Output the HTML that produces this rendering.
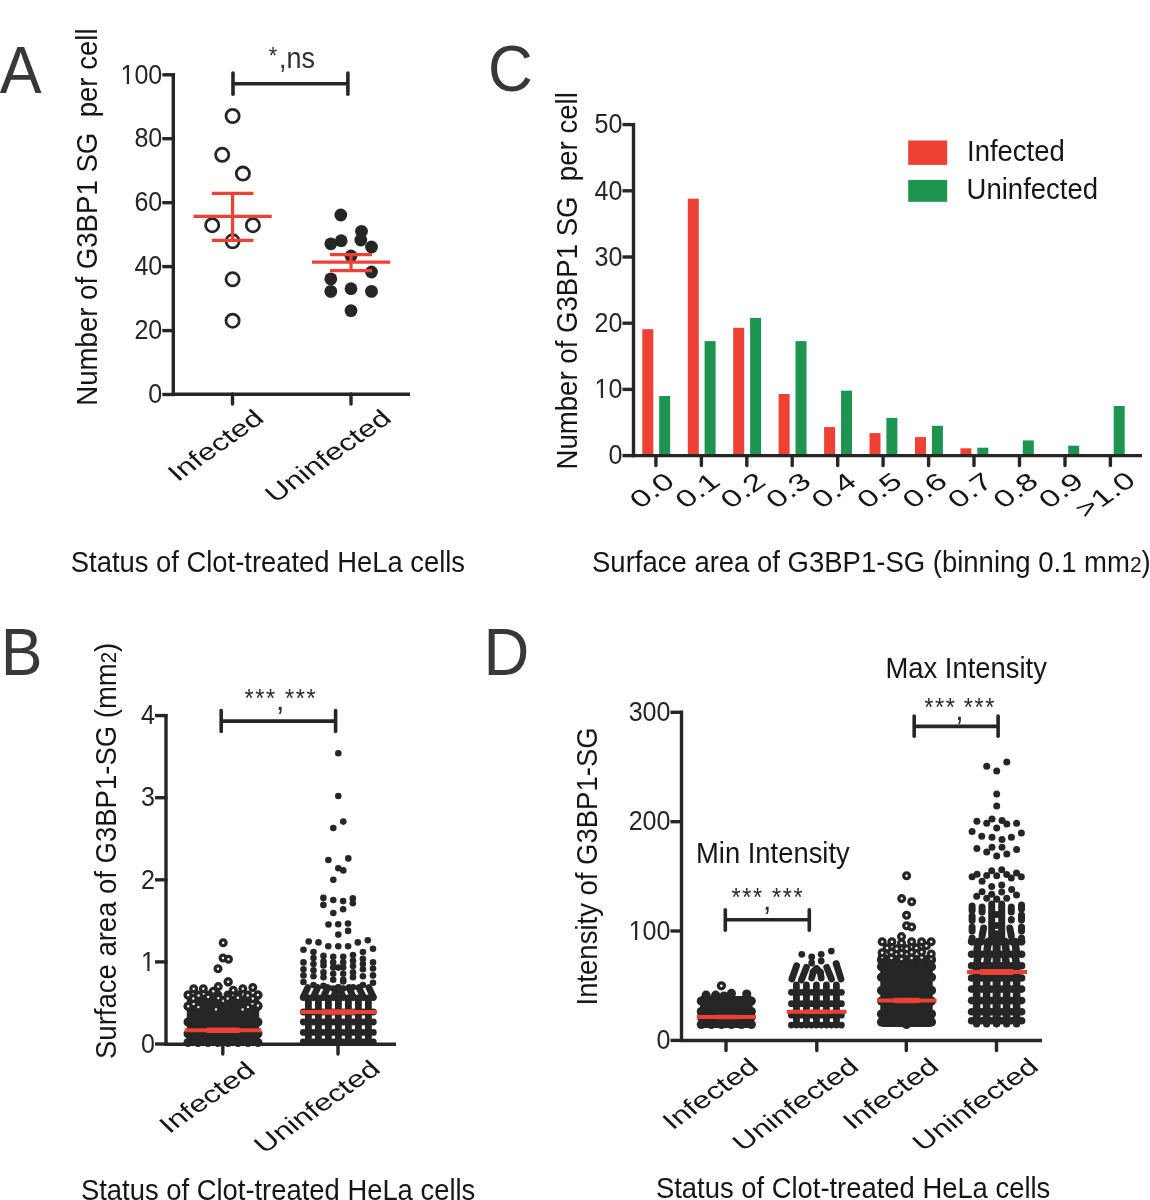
<!DOCTYPE html>
<html><head><meta charset="utf-8"><style>
html,body{margin:0;padding:0;background:#fff;overflow:hidden}
svg{display:block;will-change:transform}
text{font-family:"Liberation Sans",sans-serif}
</style></head><body>
<svg width="1150" height="1200" viewBox="0 0 1150 1200">
<rect width="1150" height="1200" fill="#fff"/>
<text transform="translate(-0.2,92.6) scale(1,1.06)" font-size="62.7" fill="#383838" text-anchor="start" >A</text>
<line x1="173.3" y1="73.3" x2="173.3" y2="396.0" stroke="#262626" stroke-width="3.4" stroke-linecap="butt"/>
<line x1="162.3" y1="394.5" x2="174.8" y2="394.5" stroke="#262626" stroke-width="3.4" stroke-linecap="butt"/>
<text transform="translate(162.3,403.2) scale(0.965,1.04)" font-size="26" fill="#262626" text-anchor="end">0</text>
<line x1="162.3" y1="330.6" x2="174.8" y2="330.6" stroke="#262626" stroke-width="3.4" stroke-linecap="butt"/>
<text transform="translate(162.3,339.3) scale(0.965,1.04)" font-size="26" fill="#262626" text-anchor="end">20</text>
<line x1="162.3" y1="266.6" x2="174.8" y2="266.6" stroke="#262626" stroke-width="3.4" stroke-linecap="butt"/>
<text transform="translate(162.3,275.3) scale(0.965,1.04)" font-size="26" fill="#262626" text-anchor="end">40</text>
<line x1="162.3" y1="202.7" x2="174.8" y2="202.7" stroke="#262626" stroke-width="3.4" stroke-linecap="butt"/>
<text transform="translate(162.3,211.4) scale(0.965,1.04)" font-size="26" fill="#262626" text-anchor="end">60</text>
<line x1="162.3" y1="138.7" x2="174.8" y2="138.7" stroke="#262626" stroke-width="3.4" stroke-linecap="butt"/>
<text transform="translate(162.3,147.4) scale(0.965,1.04)" font-size="26" fill="#262626" text-anchor="end">80</text>
<line x1="162.3" y1="74.8" x2="174.8" y2="74.8" stroke="#262626" stroke-width="3.4" stroke-linecap="butt"/>
<text transform="translate(162.3,83.5) scale(0.965,1.04)" font-size="26" fill="#262626" text-anchor="end">100</text>
<rect x="121.79" y="81.13" width="4.94" height="3.07" fill="#fff"/>
<rect x="128.99" y="81.13" width="4.80" height="3.07" fill="#fff"/>
<line x1="172.0" y1="394.2" x2="410.0" y2="394.2" stroke="#262626" stroke-width="3.4" stroke-linecap="butt"/>
<line x1="232.5" y1="394.0" x2="232.5" y2="404.0" stroke="#262626" stroke-width="3.4" stroke-linecap="round"/>
<line x1="351.0" y1="394.0" x2="351.0" y2="404.0" stroke="#262626" stroke-width="3.4" stroke-linecap="round"/>
<text transform="translate(96.6,405.7) rotate(-90) scale(1,1.06)" font-size="27.6" fill="#161616" text-anchor="start" xml:space="preserve">Number of G3BP1 SG  per cell</text>
<line x1="233.0" y1="83.8" x2="347.9" y2="83.8" stroke="#262626" stroke-width="3.6" stroke-linecap="butt"/>
<line x1="233.0" y1="73.0" x2="233.0" y2="94.3" stroke="#262626" stroke-width="3.6" stroke-linecap="round"/>
<line x1="347.9" y1="73.0" x2="347.9" y2="94.3" stroke="#262626" stroke-width="3.6" stroke-linecap="round"/>
<text transform="translate(278.9,68.0) scale(1,1.06)" font-size="27" fill="#303030" text-anchor="start" >,ns</text>
<text transform="translate(273.0,63.5) scale(1,1.06)" font-size="21.8" fill="#303030" text-anchor="middle" >*</text>
<circle cx="232.6" cy="116.0" r="6.6" fill="none" stroke="#262626" stroke-width="2.8"/>
<circle cx="222.2" cy="154.8" r="6.6" fill="none" stroke="#262626" stroke-width="2.8"/>
<circle cx="242.9" cy="173.6" r="6.6" fill="none" stroke="#262626" stroke-width="2.8"/>
<circle cx="212.2" cy="225.2" r="6.6" fill="none" stroke="#262626" stroke-width="2.8"/>
<circle cx="252.9" cy="225.2" r="6.6" fill="none" stroke="#262626" stroke-width="2.8"/>
<circle cx="232.6" cy="241.3" r="6.6" fill="none" stroke="#262626" stroke-width="2.8"/>
<circle cx="232.6" cy="279.3" r="6.6" fill="none" stroke="#262626" stroke-width="2.8"/>
<circle cx="232.6" cy="320.7" r="6.6" fill="none" stroke="#262626" stroke-width="2.8"/>
<circle cx="340.8" cy="215.0" r="6.4" fill="#262626"/>
<circle cx="361.5" cy="231.3" r="6.4" fill="#262626"/>
<circle cx="341.2" cy="240.7" r="6.4" fill="#262626"/>
<circle cx="330.8" cy="243.8" r="6.4" fill="#262626"/>
<circle cx="360.8" cy="240.0" r="6.4" fill="#262626"/>
<circle cx="371.5" cy="247.0" r="6.4" fill="#262626"/>
<circle cx="351.0" cy="256.0" r="6.4" fill="#262626"/>
<circle cx="371.5" cy="272.0" r="6.4" fill="#262626"/>
<circle cx="330.8" cy="278.9" r="6.4" fill="#262626"/>
<circle cx="330.8" cy="291.4" r="6.4" fill="#262626"/>
<circle cx="351.0" cy="288.7" r="6.4" fill="#262626"/>
<circle cx="371.5" cy="291.4" r="6.4" fill="#262626"/>
<circle cx="351.0" cy="310.6" r="6.4" fill="#262626"/>
<line x1="193.4" y1="216.4" x2="271.7" y2="216.4" stroke="#EC4134" stroke-width="3.2" stroke-linecap="butt"/>
<line x1="211.8" y1="193.3" x2="253.5" y2="193.3" stroke="#EC4134" stroke-width="3.2" stroke-linecap="butt"/>
<line x1="211.8" y1="240.4" x2="253.5" y2="240.4" stroke="#EC4134" stroke-width="3.2" stroke-linecap="butt"/>
<line x1="232.6" y1="193.3" x2="232.6" y2="240.4" stroke="#EC4134" stroke-width="3.2" stroke-linecap="butt"/>
<line x1="312.0" y1="262.2" x2="390.3" y2="262.2" stroke="#EC4134" stroke-width="3.2" stroke-linecap="butt"/>
<line x1="330.0" y1="254.7" x2="372.0" y2="254.7" stroke="#EC4134" stroke-width="3.2" stroke-linecap="butt"/>
<line x1="330.0" y1="270.6" x2="372.0" y2="270.6" stroke="#EC4134" stroke-width="3.2" stroke-linecap="butt"/>
<line x1="351.0" y1="254.7" x2="351.0" y2="270.6" stroke="#EC4134" stroke-width="3.2" stroke-linecap="butt"/>
<text transform="matrix(0.8226,-0.5803,0.6012,0.5867,265.5,420.4)" font-size="30" fill="#161616" text-anchor="end">Infected</text>
<text transform="matrix(0.8226,-0.5803,0.6012,0.5867,392.9,420.3)" font-size="30" fill="#161616" text-anchor="end">Uninfected</text>
<text transform="translate(70.8,572.0) scale(1,1.06)" font-size="27.4" fill="#161616" text-anchor="start" >Status of Clot-treated HeLa cells</text>
<text transform="translate(487.9,91.3) scale(1,1.06)" font-size="62" fill="#383838" text-anchor="start" >C</text>
<line x1="633.5" y1="123.1" x2="633.5" y2="457.1" stroke="#262626" stroke-width="3.4" stroke-linecap="butt"/>
<line x1="622.5" y1="455.6" x2="635.0" y2="455.6" stroke="#262626" stroke-width="3.4" stroke-linecap="butt"/>
<text transform="translate(622.5,464.3) scale(0.965,1.04)" font-size="26" fill="#262626" text-anchor="end">0</text>
<line x1="622.5" y1="389.4" x2="635.0" y2="389.4" stroke="#262626" stroke-width="3.4" stroke-linecap="butt"/>
<text transform="translate(622.5,398.1) scale(0.965,1.04)" font-size="26" fill="#262626" text-anchor="end">10</text>
<rect x="595.94" y="395.73" width="4.94" height="3.07" fill="#fff"/>
<rect x="603.14" y="395.73" width="4.80" height="3.07" fill="#fff"/>
<line x1="622.5" y1="323.2" x2="635.0" y2="323.2" stroke="#262626" stroke-width="3.4" stroke-linecap="butt"/>
<text transform="translate(622.5,331.9) scale(0.965,1.04)" font-size="26" fill="#262626" text-anchor="end">20</text>
<line x1="622.5" y1="257.0" x2="635.0" y2="257.0" stroke="#262626" stroke-width="3.4" stroke-linecap="butt"/>
<text transform="translate(622.5,265.7) scale(0.965,1.04)" font-size="26" fill="#262626" text-anchor="end">30</text>
<line x1="622.5" y1="190.8" x2="635.0" y2="190.8" stroke="#262626" stroke-width="3.4" stroke-linecap="butt"/>
<text transform="translate(622.5,199.5) scale(0.965,1.04)" font-size="26" fill="#262626" text-anchor="end">40</text>
<line x1="622.5" y1="124.6" x2="635.0" y2="124.6" stroke="#262626" stroke-width="3.4" stroke-linecap="butt"/>
<text transform="translate(622.5,133.3) scale(0.965,1.04)" font-size="26" fill="#262626" text-anchor="end">50</text>
<text transform="translate(577.2,469.5) rotate(-90) scale(1,1.06)" font-size="27.6" fill="#161616" text-anchor="start" xml:space="preserve">Number of G3BP1 SG  per cell</text>
<line x1="655.9" y1="455.6" x2="655.9" y2="465.6" stroke="#262626" stroke-width="3.4" stroke-linecap="round"/>
<rect x="642.3" y="329.2" width="11" height="126.4" fill="#EC4134"/>
<rect x="659.2" y="396.0" width="11" height="59.6" fill="#1E9451"/>
<line x1="701.4" y1="455.6" x2="701.4" y2="465.6" stroke="#262626" stroke-width="3.4" stroke-linecap="round"/>
<rect x="687.8" y="198.7" width="11" height="256.9" fill="#EC4134"/>
<rect x="704.6" y="341.1" width="11" height="114.5" fill="#1E9451"/>
<line x1="746.8" y1="455.6" x2="746.8" y2="465.6" stroke="#262626" stroke-width="3.4" stroke-linecap="round"/>
<rect x="733.2" y="327.8" width="11" height="127.8" fill="#EC4134"/>
<rect x="750.1" y="317.9" width="11" height="137.7" fill="#1E9451"/>
<line x1="792.2" y1="455.6" x2="792.2" y2="465.6" stroke="#262626" stroke-width="3.4" stroke-linecap="round"/>
<rect x="778.6" y="394.0" width="11" height="61.6" fill="#EC4134"/>
<rect x="795.5" y="341.1" width="11" height="114.5" fill="#1E9451"/>
<line x1="837.7" y1="455.6" x2="837.7" y2="465.6" stroke="#262626" stroke-width="3.4" stroke-linecap="round"/>
<rect x="824.1" y="427.1" width="11" height="28.5" fill="#EC4134"/>
<rect x="841.0" y="390.7" width="11" height="64.9" fill="#1E9451"/>
<line x1="883.1" y1="455.6" x2="883.1" y2="465.6" stroke="#262626" stroke-width="3.4" stroke-linecap="round"/>
<rect x="869.5" y="433.1" width="11" height="22.5" fill="#EC4134"/>
<rect x="886.4" y="417.9" width="11" height="37.7" fill="#1E9451"/>
<line x1="928.6" y1="455.6" x2="928.6" y2="465.6" stroke="#262626" stroke-width="3.4" stroke-linecap="round"/>
<rect x="915.0" y="437.1" width="11" height="18.5" fill="#EC4134"/>
<rect x="931.9" y="425.8" width="11" height="29.8" fill="#1E9451"/>
<line x1="974.0" y1="455.6" x2="974.0" y2="465.6" stroke="#262626" stroke-width="3.4" stroke-linecap="round"/>
<rect x="960.4" y="448.3" width="11" height="7.3" fill="#EC4134"/>
<rect x="977.3" y="447.7" width="11" height="7.9" fill="#1E9451"/>
<line x1="1019.5" y1="455.6" x2="1019.5" y2="465.6" stroke="#262626" stroke-width="3.4" stroke-linecap="round"/>
<rect x="1022.8" y="440.4" width="11" height="15.2" fill="#1E9451"/>
<line x1="1065.0" y1="455.6" x2="1065.0" y2="465.6" stroke="#262626" stroke-width="3.4" stroke-linecap="round"/>
<rect x="1068.2" y="445.7" width="11" height="9.9" fill="#1E9451"/>
<line x1="1110.4" y1="455.6" x2="1110.4" y2="465.6" stroke="#262626" stroke-width="3.4" stroke-linecap="round"/>
<rect x="1113.7" y="406.0" width="11" height="49.6" fill="#1E9451"/>
<line x1="632.0" y1="455.6" x2="1142.0" y2="455.6" stroke="#262626" stroke-width="3.4" stroke-linecap="butt"/>
<rect x="908.2" y="140.5" width="39" height="24.4" fill="#EC4134"/>
<rect x="908.2" y="179.9" width="39" height="21.9" fill="#1E9451"/>
<text transform="translate(967.0,160.7) scale(1,1.06)" font-size="27.5" fill="#161616" text-anchor="start" >Infected</text>
<text transform="translate(966.6,199.3) scale(1,1.06)" font-size="27.5" fill="#161616" text-anchor="start" >Uninfected</text>
<text transform="translate(592.0,571.5) scale(1,1.06)" font-size="27.5" fill="#161616" text-anchor="start" >Surface area of G3BP1-SG (binning 0.1 mm<tspan font-size="21">2</tspan>)</text>
<text transform="translate(0.7,675.3) scale(1,1.06)" font-size="62.7" fill="#383838" text-anchor="start" >B</text>
<line x1="166.0" y1="714.1" x2="166.0" y2="1045.5" stroke="#262626" stroke-width="3.4" stroke-linecap="butt"/>
<line x1="155.0" y1="1044.0" x2="167.5" y2="1044.0" stroke="#262626" stroke-width="3.4" stroke-linecap="butt"/>
<text transform="translate(155.0,1052.7) scale(0.965,1.04)" font-size="26" fill="#262626" text-anchor="end">0</text>
<line x1="155.0" y1="961.9" x2="167.5" y2="961.9" stroke="#262626" stroke-width="3.4" stroke-linecap="butt"/>
<text transform="translate(155.0,970.6) scale(0.965,1.04)" font-size="26" fill="#262626" text-anchor="end">1</text>
<rect x="142.39" y="968.23" width="4.94" height="3.07" fill="#fff"/>
<rect x="149.60" y="968.23" width="4.80" height="3.07" fill="#fff"/>
<line x1="155.0" y1="879.8" x2="167.5" y2="879.8" stroke="#262626" stroke-width="3.4" stroke-linecap="butt"/>
<text transform="translate(155.0,888.5) scale(0.965,1.04)" font-size="26" fill="#262626" text-anchor="end">2</text>
<line x1="155.0" y1="797.7" x2="167.5" y2="797.7" stroke="#262626" stroke-width="3.4" stroke-linecap="butt"/>
<text transform="translate(155.0,806.4) scale(0.965,1.04)" font-size="26" fill="#262626" text-anchor="end">3</text>
<line x1="155.0" y1="715.6" x2="167.5" y2="715.6" stroke="#262626" stroke-width="3.4" stroke-linecap="butt"/>
<text transform="translate(155.0,724.3) scale(0.965,1.04)" font-size="26" fill="#262626" text-anchor="end">4</text>
<line x1="165.0" y1="1044.3" x2="396.0" y2="1044.3" stroke="#262626" stroke-width="3.4" stroke-linecap="butt"/>
<line x1="222.8" y1="1044.0" x2="222.8" y2="1054.0" stroke="#262626" stroke-width="3.4" stroke-linecap="round"/>
<line x1="338.0" y1="1044.0" x2="338.0" y2="1054.0" stroke="#262626" stroke-width="3.4" stroke-linecap="round"/>
<text transform="translate(115.5,1059.0) rotate(-90) scale(1,1.06)" font-size="27.5" fill="#161616" text-anchor="start" xml:space="preserve">Surface area of G3BP1-SG (mm<tspan font-size="20.5">2</tspan>)</text>
<line x1="221.2" y1="721.1" x2="335.6" y2="721.1" stroke="#262626" stroke-width="3.6" stroke-linecap="butt"/>
<line x1="221.2" y1="710.5" x2="221.2" y2="731.5" stroke="#262626" stroke-width="3.6" stroke-linecap="round"/>
<line x1="335.6" y1="710.5" x2="335.6" y2="731.5" stroke="#262626" stroke-width="3.6" stroke-linecap="round"/>
<rect x="186.8" y="996" width="72.4" height="49" rx="3" fill="#262626"/>
<circle cx="188.0" cy="995.0" r="4.5" fill="#262626"/>
<circle cx="198.0" cy="995.0" r="4.5" fill="#262626"/>
<circle cx="208.0" cy="995.0" r="4.5" fill="#262626"/>
<circle cx="218.0" cy="995.0" r="4.5" fill="#262626"/>
<circle cx="228.0" cy="995.0" r="4.5" fill="#262626"/>
<circle cx="238.0" cy="995.0" r="4.5" fill="#262626"/>
<circle cx="248.0" cy="995.0" r="4.5" fill="#262626"/>
<circle cx="258.0" cy="995.0" r="4.5" fill="#262626"/>
<circle cx="188.0" cy="1006.3" r="4.5" fill="#262626"/>
<circle cx="198.0" cy="1006.3" r="4.5" fill="#262626"/>
<circle cx="208.0" cy="1006.3" r="4.5" fill="#262626"/>
<circle cx="218.0" cy="1006.3" r="4.5" fill="#262626"/>
<circle cx="228.0" cy="1006.3" r="4.5" fill="#262626"/>
<circle cx="238.0" cy="1006.3" r="4.5" fill="#262626"/>
<circle cx="248.0" cy="1006.3" r="4.5" fill="#262626"/>
<circle cx="258.0" cy="1006.3" r="4.5" fill="#262626"/>
<circle cx="188.0" cy="1022.0" r="4.5" fill="#262626"/>
<circle cx="198.0" cy="1022.0" r="4.5" fill="#262626"/>
<circle cx="208.0" cy="1022.0" r="4.5" fill="#262626"/>
<circle cx="218.0" cy="1022.0" r="4.5" fill="#262626"/>
<circle cx="228.0" cy="1022.0" r="4.5" fill="#262626"/>
<circle cx="238.0" cy="1022.0" r="4.5" fill="#262626"/>
<circle cx="248.0" cy="1022.0" r="4.5" fill="#262626"/>
<circle cx="258.0" cy="1022.0" r="4.5" fill="#262626"/>
<circle cx="188.0" cy="1033.7" r="4.5" fill="#262626"/>
<circle cx="198.0" cy="1033.7" r="4.5" fill="#262626"/>
<circle cx="208.0" cy="1033.7" r="4.5" fill="#262626"/>
<circle cx="218.0" cy="1033.7" r="4.5" fill="#262626"/>
<circle cx="228.0" cy="1033.7" r="4.5" fill="#262626"/>
<circle cx="238.0" cy="1033.7" r="4.5" fill="#262626"/>
<circle cx="248.0" cy="1033.7" r="4.5" fill="#262626"/>
<circle cx="258.0" cy="1033.7" r="4.5" fill="#262626"/>
<circle cx="188.0" cy="1042.5" r="4.5" fill="#262626"/>
<circle cx="198.0" cy="1042.5" r="4.5" fill="#262626"/>
<circle cx="208.0" cy="1042.5" r="4.5" fill="#262626"/>
<circle cx="218.0" cy="1042.5" r="4.5" fill="#262626"/>
<circle cx="228.0" cy="1042.5" r="4.5" fill="#262626"/>
<circle cx="238.0" cy="1042.5" r="4.5" fill="#262626"/>
<circle cx="248.0" cy="1042.5" r="4.5" fill="#262626"/>
<circle cx="258.0" cy="1042.5" r="4.5" fill="#262626"/>
<circle cx="188.2" cy="1006.3" r="2.85" fill="#fff" stroke="#262626" stroke-width="3.3"/>
<circle cx="257.9" cy="1005.5" r="2.85" fill="#fff" stroke="#262626" stroke-width="3.3"/>
<circle cx="193.7" cy="1004.0" r="2.85" fill="#fff" stroke="#262626" stroke-width="3.3"/>
<circle cx="198.4" cy="1007.1" r="2.85" fill="#fff" stroke="#262626" stroke-width="3.3"/>
<circle cx="216.0" cy="1009.4" r="2.85" fill="#fff" stroke="#262626" stroke-width="3.3"/>
<circle cx="242.6" cy="1009.4" r="2.85" fill="#fff" stroke="#262626" stroke-width="3.3"/>
<circle cx="248.0" cy="1007.1" r="2.85" fill="#fff" stroke="#262626" stroke-width="3.3"/>
<circle cx="252.4" cy="1003.6" r="2.85" fill="#fff" stroke="#262626" stroke-width="3.3"/>
<circle cx="193.3" cy="998.5" r="2.85" fill="#fff" stroke="#262626" stroke-width="3.3"/>
<circle cx="203.5" cy="993.8" r="2.85" fill="#fff" stroke="#262626" stroke-width="3.3"/>
<circle cx="208.2" cy="996.9" r="2.85" fill="#fff" stroke="#262626" stroke-width="3.3"/>
<circle cx="218.3" cy="998.1" r="2.85" fill="#fff" stroke="#262626" stroke-width="3.3"/>
<circle cx="223.4" cy="1000.8" r="2.85" fill="#fff" stroke="#262626" stroke-width="3.3"/>
<circle cx="227.7" cy="998.5" r="2.85" fill="#fff" stroke="#262626" stroke-width="3.3"/>
<circle cx="237.9" cy="997.7" r="2.85" fill="#fff" stroke="#262626" stroke-width="3.3"/>
<circle cx="252.8" cy="998.5" r="2.85" fill="#fff" stroke="#262626" stroke-width="3.3"/>
<circle cx="188.2" cy="995.0" r="2.85" fill="#fff" stroke="#262626" stroke-width="3.3"/>
<circle cx="198.6" cy="995.5" r="2.85" fill="#fff" stroke="#262626" stroke-width="3.3"/>
<circle cx="257.9" cy="995.0" r="2.85" fill="#fff" stroke="#262626" stroke-width="3.3"/>
<circle cx="247.7" cy="995.5" r="2.85" fill="#fff" stroke="#262626" stroke-width="3.3"/>
<circle cx="193.7" cy="988.7" r="2.85" fill="#fff" stroke="#262626" stroke-width="3.3"/>
<circle cx="203.3" cy="988.7" r="2.85" fill="#fff" stroke="#262626" stroke-width="3.3"/>
<circle cx="213.3" cy="991.3" r="2.85" fill="#fff" stroke="#262626" stroke-width="3.3"/>
<circle cx="218.3" cy="986.6" r="2.85" fill="#fff" stroke="#262626" stroke-width="3.3"/>
<circle cx="233.2" cy="990.3" r="2.85" fill="#fff" stroke="#262626" stroke-width="3.3"/>
<circle cx="242.8" cy="988.7" r="2.85" fill="#fff" stroke="#262626" stroke-width="3.3"/>
<circle cx="252.8" cy="987.5" r="2.85" fill="#fff" stroke="#262626" stroke-width="3.3"/>
<circle cx="228.1" cy="982.0" r="2.85" fill="#fff" stroke="#262626" stroke-width="3.3"/>
<circle cx="223.2" cy="942.8" r="2.85" fill="#fff" stroke="#262626" stroke-width="3.3"/>
<circle cx="223.0" cy="958.0" r="2.85" fill="#fff" stroke="#262626" stroke-width="3.3"/>
<circle cx="228.5" cy="959.3" r="2.85" fill="#fff" stroke="#262626" stroke-width="3.3"/>
<circle cx="218.0" cy="968.8" r="2.85" fill="#fff" stroke="#262626" stroke-width="3.3"/>
<circle cx="228.2" cy="981.8" r="2.85" fill="#fff" stroke="#262626" stroke-width="3.3"/>
<line x1="184.8" y1="1030.2" x2="261.3" y2="1030.2" stroke="#EC4134" stroke-width="4" stroke-linecap="butt"/>
<rect x="205.5" y="1027.5" width="35.2" height="5.5" rx="2" fill="#EC4134"/>
<circle cx="343.3" cy="1042.0" r="3.4" fill="#262626"/>
<circle cx="353.3" cy="1042.0" r="3.4" fill="#262626"/>
<circle cx="363.3" cy="1042.0" r="3.4" fill="#262626"/>
<circle cx="373.3" cy="1042.0" r="3.4" fill="#262626"/>
<circle cx="333.3" cy="1042.0" r="3.4" fill="#262626"/>
<circle cx="323.3" cy="1042.0" r="3.4" fill="#262626"/>
<circle cx="313.3" cy="1042.0" r="3.4" fill="#262626"/>
<circle cx="303.3" cy="1042.0" r="3.4" fill="#262626"/>
<circle cx="343.3" cy="1032.4" r="3.4" fill="#262626"/>
<circle cx="353.3" cy="1032.4" r="3.4" fill="#262626"/>
<circle cx="363.3" cy="1032.4" r="3.4" fill="#262626"/>
<circle cx="373.3" cy="1032.4" r="3.4" fill="#262626"/>
<circle cx="333.3" cy="1032.4" r="3.4" fill="#262626"/>
<circle cx="323.3" cy="1032.4" r="3.4" fill="#262626"/>
<circle cx="313.3" cy="1032.4" r="3.4" fill="#262626"/>
<circle cx="303.3" cy="1032.4" r="3.4" fill="#262626"/>
<circle cx="343.3" cy="1022.0" r="3.4" fill="#262626"/>
<circle cx="353.3" cy="1022.0" r="3.4" fill="#262626"/>
<circle cx="363.3" cy="1022.0" r="3.4" fill="#262626"/>
<circle cx="373.3" cy="1022.0" r="3.4" fill="#262626"/>
<circle cx="333.3" cy="1022.0" r="3.4" fill="#262626"/>
<circle cx="323.3" cy="1022.0" r="3.4" fill="#262626"/>
<circle cx="313.3" cy="1022.0" r="3.4" fill="#262626"/>
<circle cx="303.3" cy="1022.0" r="3.4" fill="#262626"/>
<circle cx="343.3" cy="1012.0" r="3.4" fill="#262626"/>
<circle cx="353.3" cy="1012.0" r="3.4" fill="#262626"/>
<circle cx="363.3" cy="1012.0" r="3.4" fill="#262626"/>
<circle cx="373.3" cy="1012.0" r="3.4" fill="#262626"/>
<circle cx="333.3" cy="1012.0" r="3.4" fill="#262626"/>
<circle cx="323.3" cy="1012.0" r="3.4" fill="#262626"/>
<circle cx="313.3" cy="1012.0" r="3.4" fill="#262626"/>
<circle cx="303.3" cy="1012.0" r="3.4" fill="#262626"/>
<circle cx="343.3" cy="997.5" r="3.4" fill="#262626"/>
<circle cx="353.3" cy="997.5" r="3.4" fill="#262626"/>
<circle cx="363.3" cy="997.5" r="3.4" fill="#262626"/>
<circle cx="373.3" cy="997.5" r="3.4" fill="#262626"/>
<circle cx="333.3" cy="997.5" r="3.4" fill="#262626"/>
<circle cx="323.3" cy="997.5" r="3.4" fill="#262626"/>
<circle cx="313.3" cy="997.5" r="3.4" fill="#262626"/>
<circle cx="303.3" cy="997.5" r="3.4" fill="#262626"/>
<circle cx="338.3" cy="1042.0" r="3.4" fill="#262626"/>
<circle cx="348.3" cy="1042.0" r="3.4" fill="#262626"/>
<circle cx="358.3" cy="1042.0" r="3.4" fill="#262626"/>
<circle cx="368.3" cy="1042.0" r="3.4" fill="#262626"/>
<circle cx="328.3" cy="1042.0" r="3.4" fill="#262626"/>
<circle cx="318.3" cy="1042.0" r="3.4" fill="#262626"/>
<circle cx="308.3" cy="1042.0" r="3.4" fill="#262626"/>
<circle cx="338.3" cy="1040.0" r="3.4" fill="#262626"/>
<circle cx="348.3" cy="1040.0" r="3.4" fill="#262626"/>
<circle cx="358.3" cy="1040.0" r="3.4" fill="#262626"/>
<circle cx="368.3" cy="1040.0" r="3.4" fill="#262626"/>
<circle cx="328.3" cy="1040.0" r="3.4" fill="#262626"/>
<circle cx="318.3" cy="1040.0" r="3.4" fill="#262626"/>
<circle cx="308.3" cy="1040.0" r="3.4" fill="#262626"/>
<circle cx="338.3" cy="1038.0" r="3.4" fill="#262626"/>
<circle cx="348.3" cy="1038.0" r="3.4" fill="#262626"/>
<circle cx="358.3" cy="1038.0" r="3.4" fill="#262626"/>
<circle cx="368.3" cy="1038.0" r="3.4" fill="#262626"/>
<circle cx="328.3" cy="1038.0" r="3.4" fill="#262626"/>
<circle cx="318.3" cy="1038.0" r="3.4" fill="#262626"/>
<circle cx="308.3" cy="1038.0" r="3.4" fill="#262626"/>
<circle cx="338.3" cy="1036.0" r="3.4" fill="#262626"/>
<circle cx="348.3" cy="1036.0" r="3.4" fill="#262626"/>
<circle cx="358.3" cy="1036.0" r="3.4" fill="#262626"/>
<circle cx="368.3" cy="1036.0" r="3.4" fill="#262626"/>
<circle cx="328.3" cy="1036.0" r="3.4" fill="#262626"/>
<circle cx="318.3" cy="1036.0" r="3.4" fill="#262626"/>
<circle cx="308.3" cy="1036.0" r="3.4" fill="#262626"/>
<circle cx="338.3" cy="1034.0" r="3.4" fill="#262626"/>
<circle cx="348.3" cy="1034.0" r="3.4" fill="#262626"/>
<circle cx="358.3" cy="1034.0" r="3.4" fill="#262626"/>
<circle cx="368.3" cy="1034.0" r="3.4" fill="#262626"/>
<circle cx="328.3" cy="1034.0" r="3.4" fill="#262626"/>
<circle cx="318.3" cy="1034.0" r="3.4" fill="#262626"/>
<circle cx="308.3" cy="1034.0" r="3.4" fill="#262626"/>
<circle cx="338.3" cy="1032.0" r="3.4" fill="#262626"/>
<circle cx="348.3" cy="1032.0" r="3.4" fill="#262626"/>
<circle cx="358.3" cy="1032.0" r="3.4" fill="#262626"/>
<circle cx="368.3" cy="1032.0" r="3.4" fill="#262626"/>
<circle cx="328.3" cy="1032.0" r="3.4" fill="#262626"/>
<circle cx="318.3" cy="1032.0" r="3.4" fill="#262626"/>
<circle cx="308.3" cy="1032.0" r="3.4" fill="#262626"/>
<circle cx="338.3" cy="1030.0" r="3.4" fill="#262626"/>
<circle cx="348.3" cy="1030.0" r="3.4" fill="#262626"/>
<circle cx="358.3" cy="1030.0" r="3.4" fill="#262626"/>
<circle cx="368.3" cy="1030.0" r="3.4" fill="#262626"/>
<circle cx="328.3" cy="1030.0" r="3.4" fill="#262626"/>
<circle cx="318.3" cy="1030.0" r="3.4" fill="#262626"/>
<circle cx="308.3" cy="1030.0" r="3.4" fill="#262626"/>
<circle cx="338.3" cy="1028.0" r="3.4" fill="#262626"/>
<circle cx="348.3" cy="1028.0" r="3.4" fill="#262626"/>
<circle cx="358.3" cy="1028.0" r="3.4" fill="#262626"/>
<circle cx="368.3" cy="1028.0" r="3.4" fill="#262626"/>
<circle cx="328.3" cy="1028.0" r="3.4" fill="#262626"/>
<circle cx="318.3" cy="1028.0" r="3.4" fill="#262626"/>
<circle cx="308.3" cy="1028.0" r="3.4" fill="#262626"/>
<circle cx="338.3" cy="1026.0" r="3.4" fill="#262626"/>
<circle cx="348.3" cy="1026.0" r="3.4" fill="#262626"/>
<circle cx="358.3" cy="1026.0" r="3.4" fill="#262626"/>
<circle cx="368.3" cy="1026.0" r="3.4" fill="#262626"/>
<circle cx="328.3" cy="1026.0" r="3.4" fill="#262626"/>
<circle cx="318.3" cy="1026.0" r="3.4" fill="#262626"/>
<circle cx="308.3" cy="1026.0" r="3.4" fill="#262626"/>
<circle cx="338.3" cy="1024.0" r="3.4" fill="#262626"/>
<circle cx="348.3" cy="1024.0" r="3.4" fill="#262626"/>
<circle cx="358.3" cy="1024.0" r="3.4" fill="#262626"/>
<circle cx="368.3" cy="1024.0" r="3.4" fill="#262626"/>
<circle cx="328.3" cy="1024.0" r="3.4" fill="#262626"/>
<circle cx="318.3" cy="1024.0" r="3.4" fill="#262626"/>
<circle cx="308.3" cy="1024.0" r="3.4" fill="#262626"/>
<circle cx="338.3" cy="1022.0" r="3.4" fill="#262626"/>
<circle cx="348.3" cy="1022.0" r="3.4" fill="#262626"/>
<circle cx="358.3" cy="1022.0" r="3.4" fill="#262626"/>
<circle cx="368.3" cy="1022.0" r="3.4" fill="#262626"/>
<circle cx="328.3" cy="1022.0" r="3.4" fill="#262626"/>
<circle cx="318.3" cy="1022.0" r="3.4" fill="#262626"/>
<circle cx="308.3" cy="1022.0" r="3.4" fill="#262626"/>
<circle cx="338.3" cy="1020.0" r="3.4" fill="#262626"/>
<circle cx="348.3" cy="1020.0" r="3.4" fill="#262626"/>
<circle cx="358.3" cy="1020.0" r="3.4" fill="#262626"/>
<circle cx="368.3" cy="1020.0" r="3.4" fill="#262626"/>
<circle cx="328.3" cy="1020.0" r="3.4" fill="#262626"/>
<circle cx="318.3" cy="1020.0" r="3.4" fill="#262626"/>
<circle cx="308.3" cy="1020.0" r="3.4" fill="#262626"/>
<circle cx="338.3" cy="1018.0" r="3.4" fill="#262626"/>
<circle cx="348.3" cy="1018.0" r="3.4" fill="#262626"/>
<circle cx="358.3" cy="1018.0" r="3.4" fill="#262626"/>
<circle cx="368.3" cy="1018.0" r="3.4" fill="#262626"/>
<circle cx="328.3" cy="1018.0" r="3.4" fill="#262626"/>
<circle cx="318.3" cy="1018.0" r="3.4" fill="#262626"/>
<circle cx="308.3" cy="1018.0" r="3.4" fill="#262626"/>
<circle cx="338.3" cy="1016.0" r="3.4" fill="#262626"/>
<circle cx="348.3" cy="1016.0" r="3.4" fill="#262626"/>
<circle cx="358.3" cy="1016.0" r="3.4" fill="#262626"/>
<circle cx="368.3" cy="1016.0" r="3.4" fill="#262626"/>
<circle cx="328.3" cy="1016.0" r="3.4" fill="#262626"/>
<circle cx="318.3" cy="1016.0" r="3.4" fill="#262626"/>
<circle cx="308.3" cy="1016.0" r="3.4" fill="#262626"/>
<circle cx="338.3" cy="1014.0" r="3.4" fill="#262626"/>
<circle cx="348.3" cy="1014.0" r="3.4" fill="#262626"/>
<circle cx="358.3" cy="1014.0" r="3.4" fill="#262626"/>
<circle cx="368.3" cy="1014.0" r="3.4" fill="#262626"/>
<circle cx="328.3" cy="1014.0" r="3.4" fill="#262626"/>
<circle cx="318.3" cy="1014.0" r="3.4" fill="#262626"/>
<circle cx="308.3" cy="1014.0" r="3.4" fill="#262626"/>
<circle cx="338.3" cy="1012.0" r="3.4" fill="#262626"/>
<circle cx="348.3" cy="1012.0" r="3.4" fill="#262626"/>
<circle cx="358.3" cy="1012.0" r="3.4" fill="#262626"/>
<circle cx="368.3" cy="1012.0" r="3.4" fill="#262626"/>
<circle cx="328.3" cy="1012.0" r="3.4" fill="#262626"/>
<circle cx="318.3" cy="1012.0" r="3.4" fill="#262626"/>
<circle cx="308.3" cy="1012.0" r="3.4" fill="#262626"/>
<circle cx="338.3" cy="1010.0" r="3.4" fill="#262626"/>
<circle cx="348.3" cy="1010.0" r="3.4" fill="#262626"/>
<circle cx="358.3" cy="1010.0" r="3.4" fill="#262626"/>
<circle cx="368.3" cy="1010.0" r="3.4" fill="#262626"/>
<circle cx="328.3" cy="1010.0" r="3.4" fill="#262626"/>
<circle cx="318.3" cy="1010.0" r="3.4" fill="#262626"/>
<circle cx="308.3" cy="1010.0" r="3.4" fill="#262626"/>
<circle cx="338.3" cy="1008.0" r="3.4" fill="#262626"/>
<circle cx="348.3" cy="1008.0" r="3.4" fill="#262626"/>
<circle cx="358.3" cy="1008.0" r="3.4" fill="#262626"/>
<circle cx="368.3" cy="1008.0" r="3.4" fill="#262626"/>
<circle cx="328.3" cy="1008.0" r="3.4" fill="#262626"/>
<circle cx="318.3" cy="1008.0" r="3.4" fill="#262626"/>
<circle cx="308.3" cy="1008.0" r="3.4" fill="#262626"/>
<circle cx="338.3" cy="1006.0" r="3.4" fill="#262626"/>
<circle cx="348.3" cy="1006.0" r="3.4" fill="#262626"/>
<circle cx="358.3" cy="1006.0" r="3.4" fill="#262626"/>
<circle cx="368.3" cy="1006.0" r="3.4" fill="#262626"/>
<circle cx="328.3" cy="1006.0" r="3.4" fill="#262626"/>
<circle cx="318.3" cy="1006.0" r="3.4" fill="#262626"/>
<circle cx="308.3" cy="1006.0" r="3.4" fill="#262626"/>
<circle cx="338.3" cy="1004.0" r="3.4" fill="#262626"/>
<circle cx="348.3" cy="1004.0" r="3.4" fill="#262626"/>
<circle cx="358.3" cy="1004.0" r="3.4" fill="#262626"/>
<circle cx="368.3" cy="1004.0" r="3.4" fill="#262626"/>
<circle cx="328.3" cy="1004.0" r="3.4" fill="#262626"/>
<circle cx="318.3" cy="1004.0" r="3.4" fill="#262626"/>
<circle cx="308.3" cy="1004.0" r="3.4" fill="#262626"/>
<circle cx="338.3" cy="1002.0" r="3.4" fill="#262626"/>
<circle cx="348.3" cy="1002.0" r="3.4" fill="#262626"/>
<circle cx="358.3" cy="1002.0" r="3.4" fill="#262626"/>
<circle cx="368.3" cy="1002.0" r="3.4" fill="#262626"/>
<circle cx="328.3" cy="1002.0" r="3.4" fill="#262626"/>
<circle cx="318.3" cy="1002.0" r="3.4" fill="#262626"/>
<circle cx="308.3" cy="1002.0" r="3.4" fill="#262626"/>
<circle cx="338.3" cy="1000.0" r="3.4" fill="#262626"/>
<circle cx="348.3" cy="1000.0" r="3.4" fill="#262626"/>
<circle cx="358.3" cy="1000.0" r="3.4" fill="#262626"/>
<circle cx="368.3" cy="1000.0" r="3.4" fill="#262626"/>
<circle cx="328.3" cy="1000.0" r="3.4" fill="#262626"/>
<circle cx="318.3" cy="1000.0" r="3.4" fill="#262626"/>
<circle cx="308.3" cy="1000.0" r="3.4" fill="#262626"/>
<circle cx="338.3" cy="998.0" r="3.4" fill="#262626"/>
<circle cx="348.3" cy="998.0" r="3.4" fill="#262626"/>
<circle cx="358.3" cy="998.0" r="3.4" fill="#262626"/>
<circle cx="368.3" cy="998.0" r="3.4" fill="#262626"/>
<circle cx="328.3" cy="998.0" r="3.4" fill="#262626"/>
<circle cx="318.3" cy="998.0" r="3.4" fill="#262626"/>
<circle cx="308.3" cy="998.0" r="3.4" fill="#262626"/>
<circle cx="338.3" cy="753.3" r="3.3" fill="#262626"/>
<circle cx="338.3" cy="796.0" r="3.3" fill="#262626"/>
<circle cx="343.3" cy="821.6" r="3.3" fill="#262626"/>
<circle cx="333.3" cy="828.0" r="3.3" fill="#262626"/>
<circle cx="328.4" cy="860.0" r="3.3" fill="#262626"/>
<circle cx="348.3" cy="858.4" r="3.3" fill="#262626"/>
<circle cx="338.3" cy="868.3" r="3.3" fill="#262626"/>
<circle cx="343.3" cy="870.4" r="3.3" fill="#262626"/>
<circle cx="333.3" cy="879.7" r="3.3" fill="#262626"/>
<circle cx="323.4" cy="897.9" r="3.3" fill="#262626"/>
<circle cx="323.4" cy="904.9" r="3.3" fill="#262626"/>
<circle cx="333.3" cy="900.0" r="3.3" fill="#262626"/>
<circle cx="343.1" cy="901.1" r="3.3" fill="#262626"/>
<circle cx="352.8" cy="898.4" r="3.3" fill="#262626"/>
<circle cx="352.8" cy="903.3" r="3.3" fill="#262626"/>
<circle cx="343.1" cy="909.3" r="3.3" fill="#262626"/>
<circle cx="333.3" cy="913.0" r="3.3" fill="#262626"/>
<circle cx="328.5" cy="924.5" r="3.3" fill="#262626"/>
<circle cx="338.2" cy="924.2" r="3.3" fill="#262626"/>
<circle cx="348.0" cy="923.5" r="3.3" fill="#262626"/>
<circle cx="338.3" cy="934.6" r="3.3" fill="#262626"/>
<circle cx="348.1" cy="930.9" r="3.3" fill="#262626"/>
<circle cx="308.7" cy="941.5" r="3.3" fill="#262626"/>
<circle cx="318.5" cy="942.4" r="3.3" fill="#262626"/>
<circle cx="328.3" cy="946.3" r="3.3" fill="#262626"/>
<circle cx="338.3" cy="946.3" r="3.3" fill="#262626"/>
<circle cx="348.1" cy="946.3" r="3.3" fill="#262626"/>
<circle cx="357.8" cy="942.4" r="3.3" fill="#262626"/>
<circle cx="367.8" cy="940.2" r="3.3" fill="#262626"/>
<circle cx="303.5" cy="949.8" r="3.3" fill="#262626"/>
<circle cx="373.0" cy="948.7" r="3.3" fill="#262626"/>
<circle cx="313.5" cy="952.0" r="3.3" fill="#262626"/>
<circle cx="313.5" cy="958.0" r="3.3" fill="#262626"/>
<circle cx="313.5" cy="964.1" r="3.3" fill="#262626"/>
<circle cx="313.5" cy="970.2" r="3.3" fill="#262626"/>
<circle cx="313.5" cy="976.3" r="3.3" fill="#262626"/>
<circle cx="313.5" cy="985.0" r="3.3" fill="#262626"/>
<circle cx="323.5" cy="955.9" r="3.3" fill="#262626"/>
<circle cx="323.5" cy="961.5" r="3.3" fill="#262626"/>
<circle cx="323.5" cy="965.4" r="3.3" fill="#262626"/>
<circle cx="323.5" cy="972.4" r="3.3" fill="#262626"/>
<circle cx="323.5" cy="977.2" r="3.3" fill="#262626"/>
<circle cx="323.5" cy="985.9" r="3.3" fill="#262626"/>
<circle cx="333.2" cy="956.7" r="3.3" fill="#262626"/>
<circle cx="333.2" cy="962.4" r="3.3" fill="#262626"/>
<circle cx="333.2" cy="967.6" r="3.3" fill="#262626"/>
<circle cx="333.2" cy="973.7" r="3.3" fill="#262626"/>
<circle cx="333.2" cy="979.8" r="3.3" fill="#262626"/>
<circle cx="333.2" cy="988.5" r="3.3" fill="#262626"/>
<circle cx="343.2" cy="956.7" r="3.3" fill="#262626"/>
<circle cx="343.2" cy="962.4" r="3.3" fill="#262626"/>
<circle cx="343.2" cy="967.6" r="3.3" fill="#262626"/>
<circle cx="343.2" cy="973.7" r="3.3" fill="#262626"/>
<circle cx="343.2" cy="979.8" r="3.3" fill="#262626"/>
<circle cx="343.2" cy="981.5" r="3.3" fill="#262626"/>
<circle cx="343.2" cy="988.5" r="3.3" fill="#262626"/>
<circle cx="353.0" cy="955.0" r="3.3" fill="#262626"/>
<circle cx="353.0" cy="960.7" r="3.3" fill="#262626"/>
<circle cx="353.0" cy="966.0" r="3.3" fill="#262626"/>
<circle cx="353.0" cy="972.4" r="3.3" fill="#262626"/>
<circle cx="353.0" cy="977.2" r="3.3" fill="#262626"/>
<circle cx="353.0" cy="987.2" r="3.3" fill="#262626"/>
<circle cx="362.9" cy="952.0" r="3.3" fill="#262626"/>
<circle cx="362.9" cy="958.9" r="3.3" fill="#262626"/>
<circle cx="362.9" cy="964.1" r="3.3" fill="#262626"/>
<circle cx="362.9" cy="969.3" r="3.3" fill="#262626"/>
<circle cx="362.9" cy="976.3" r="3.3" fill="#262626"/>
<circle cx="362.9" cy="985.0" r="3.3" fill="#262626"/>
<circle cx="373.0" cy="962.4" r="3.3" fill="#262626"/>
<circle cx="373.0" cy="968.5" r="3.3" fill="#262626"/>
<circle cx="373.0" cy="975.4" r="3.3" fill="#262626"/>
<circle cx="373.0" cy="982.8" r="3.3" fill="#262626"/>
<circle cx="303.5" cy="962.4" r="3.3" fill="#262626"/>
<circle cx="303.5" cy="969.3" r="3.3" fill="#262626"/>
<circle cx="303.5" cy="975.4" r="3.3" fill="#262626"/>
<circle cx="303.5" cy="982.0" r="3.3" fill="#262626"/>
<circle cx="338.3" cy="967.6" r="3.3" fill="#262626"/>
<line x1="303.3" y1="997" x2="307.8" y2="987.5" stroke="#262626" stroke-width="6.6" stroke-linecap="round"/>
<line x1="313.3" y1="997" x2="317.8" y2="987.5" stroke="#262626" stroke-width="6.6" stroke-linecap="round"/>
<line x1="323.3" y1="997" x2="327.8" y2="987.5" stroke="#262626" stroke-width="6.6" stroke-linecap="round"/>
<line x1="333.3" y1="997" x2="337.8" y2="987.5" stroke="#262626" stroke-width="6.6" stroke-linecap="round"/>
<line x1="343.3" y1="997" x2="338.8" y2="987.5" stroke="#262626" stroke-width="6.6" stroke-linecap="round"/>
<line x1="353.3" y1="997" x2="348.8" y2="987.5" stroke="#262626" stroke-width="6.6" stroke-linecap="round"/>
<line x1="363.3" y1="997" x2="358.8" y2="987.5" stroke="#262626" stroke-width="6.6" stroke-linecap="round"/>
<line x1="373.3" y1="997" x2="368.8" y2="987.5" stroke="#262626" stroke-width="6.6" stroke-linecap="round"/>
<line x1="300.4" y1="1012.0" x2="376.7" y2="1012.0" stroke="#EC4134" stroke-width="4" stroke-linecap="butt"/>
<rect x="321.0" y="1009.2" width="35.1" height="5.5" rx="2" fill="#EC4134"/>
<text transform="translate(483.6,675.3) scale(1,1.06)" font-size="63.5" fill="#383838" text-anchor="start" >D</text>
<line x1="681.5" y1="710.8" x2="681.5" y2="1041.9" stroke="#262626" stroke-width="3.4" stroke-linecap="butt"/>
<line x1="670.5" y1="1040.4" x2="683.0" y2="1040.4" stroke="#262626" stroke-width="3.4" stroke-linecap="butt"/>
<text transform="translate(670.5,1049.1) scale(0.965,1.04)" font-size="26" fill="#262626" text-anchor="end">0</text>
<line x1="670.5" y1="931.0" x2="683.0" y2="931.0" stroke="#262626" stroke-width="3.4" stroke-linecap="butt"/>
<text transform="translate(670.5,939.7) scale(0.965,1.04)" font-size="26" fill="#262626" text-anchor="end">100</text>
<rect x="629.99" y="937.36" width="4.94" height="3.07" fill="#fff"/>
<rect x="637.19" y="937.36" width="4.80" height="3.07" fill="#fff"/>
<line x1="670.5" y1="821.7" x2="683.0" y2="821.7" stroke="#262626" stroke-width="3.4" stroke-linecap="butt"/>
<text transform="translate(670.5,830.4) scale(0.965,1.04)" font-size="26" fill="#262626" text-anchor="end">200</text>
<line x1="670.5" y1="712.3" x2="683.0" y2="712.3" stroke="#262626" stroke-width="3.4" stroke-linecap="butt"/>
<text transform="translate(670.5,721.0) scale(0.965,1.04)" font-size="26" fill="#262626" text-anchor="end">300</text>
<line x1="680.0" y1="1040.5" x2="1042.0" y2="1040.5" stroke="#262626" stroke-width="3.4" stroke-linecap="butt"/>
<line x1="726.0" y1="1040.5" x2="726.0" y2="1050.5" stroke="#262626" stroke-width="3.4" stroke-linecap="round"/>
<line x1="816.8" y1="1040.5" x2="816.8" y2="1050.5" stroke="#262626" stroke-width="3.4" stroke-linecap="round"/>
<line x1="906.3" y1="1040.5" x2="906.3" y2="1050.5" stroke="#262626" stroke-width="3.4" stroke-linecap="round"/>
<line x1="996.5" y1="1040.5" x2="996.5" y2="1050.5" stroke="#262626" stroke-width="3.4" stroke-linecap="round"/>
<text transform="translate(596.8,1005.5) rotate(-90) scale(1,1.06)" font-size="27.5" fill="#161616" text-anchor="start" xml:space="preserve">Intensity of G3BP1-SG</text>
<text transform="translate(696.0,862.8) scale(1,1.06)" font-size="27.4" fill="#161616" text-anchor="start" >Min Intensity</text>
<text transform="translate(885.5,677.6) scale(1,1.06)" font-size="27.4" fill="#161616" text-anchor="start" >Max Intensity</text>
<line x1="725.3" y1="919.8" x2="809.3" y2="919.8" stroke="#262626" stroke-width="3.6" stroke-linecap="butt"/>
<line x1="725.3" y1="909.8" x2="725.3" y2="930.2" stroke="#262626" stroke-width="3.6" stroke-linecap="round"/>
<line x1="809.3" y1="909.8" x2="809.3" y2="930.2" stroke="#262626" stroke-width="3.6" stroke-linecap="round"/>
<line x1="914.2" y1="726.4" x2="998.1" y2="726.4" stroke="#262626" stroke-width="3.6" stroke-linecap="butt"/>
<line x1="914.2" y1="716.0" x2="914.2" y2="736.3" stroke="#262626" stroke-width="3.6" stroke-linecap="round"/>
<line x1="998.1" y1="716.0" x2="998.1" y2="736.3" stroke="#262626" stroke-width="3.6" stroke-linecap="round"/>
<rect x="700" y="996" width="52.6" height="32" rx="3" fill="#262626"/>
<circle cx="701.3" cy="1001.0" r="4.6" fill="#262626"/>
<circle cx="711.3" cy="1001.0" r="4.6" fill="#262626"/>
<circle cx="721.3" cy="1001.0" r="4.6" fill="#262626"/>
<circle cx="731.3" cy="1001.0" r="4.6" fill="#262626"/>
<circle cx="741.3" cy="1001.0" r="4.6" fill="#262626"/>
<circle cx="751.3" cy="1001.0" r="4.6" fill="#262626"/>
<circle cx="701.3" cy="1011.5" r="4.6" fill="#262626"/>
<circle cx="711.3" cy="1011.5" r="4.6" fill="#262626"/>
<circle cx="721.3" cy="1011.5" r="4.6" fill="#262626"/>
<circle cx="731.3" cy="1011.5" r="4.6" fill="#262626"/>
<circle cx="741.3" cy="1011.5" r="4.6" fill="#262626"/>
<circle cx="751.3" cy="1011.5" r="4.6" fill="#262626"/>
<circle cx="701.3" cy="1017.0" r="4.6" fill="#262626"/>
<circle cx="711.3" cy="1017.0" r="4.6" fill="#262626"/>
<circle cx="721.3" cy="1017.0" r="4.6" fill="#262626"/>
<circle cx="731.3" cy="1017.0" r="4.6" fill="#262626"/>
<circle cx="741.3" cy="1017.0" r="4.6" fill="#262626"/>
<circle cx="751.3" cy="1017.0" r="4.6" fill="#262626"/>
<circle cx="701.3" cy="1024.5" r="4.6" fill="#262626"/>
<circle cx="711.3" cy="1024.5" r="4.6" fill="#262626"/>
<circle cx="721.3" cy="1024.5" r="4.6" fill="#262626"/>
<circle cx="731.3" cy="1024.5" r="4.6" fill="#262626"/>
<circle cx="741.3" cy="1024.5" r="4.6" fill="#262626"/>
<circle cx="751.3" cy="1024.5" r="4.6" fill="#262626"/>
<circle cx="706.1" cy="995.2" r="4.6" fill="#262626"/>
<circle cx="715.7" cy="995.2" r="4.6" fill="#262626"/>
<circle cx="731.4" cy="993.4" r="4.6" fill="#262626"/>
<circle cx="746.7" cy="994.1" r="4.6" fill="#262626"/>
<circle cx="724.0" cy="996.0" r="4.6" fill="#262626"/>
<circle cx="721.4" cy="985.8" r="3.0" fill="#fff" stroke="#262626" stroke-width="3.3"/>
<line x1="697.0" y1="1017.0" x2="756.0" y2="1017.0" stroke="#EC4134" stroke-width="4" stroke-linecap="butt"/>
<rect x="714.7" y="1014.8" width="23.6" height="4.5" rx="2" fill="#EC4134"/>
<circle cx="821.4" cy="1025.1" r="3.4" fill="#262626"/>
<circle cx="831.4" cy="1025.1" r="3.4" fill="#262626"/>
<circle cx="841.4" cy="1025.1" r="3.4" fill="#262626"/>
<circle cx="811.4" cy="1025.1" r="3.4" fill="#262626"/>
<circle cx="801.4" cy="1025.1" r="3.4" fill="#262626"/>
<circle cx="791.4" cy="1025.1" r="3.4" fill="#262626"/>
<circle cx="821.4" cy="1015.2" r="3.4" fill="#262626"/>
<circle cx="831.4" cy="1015.2" r="3.4" fill="#262626"/>
<circle cx="841.4" cy="1015.2" r="3.4" fill="#262626"/>
<circle cx="811.4" cy="1015.2" r="3.4" fill="#262626"/>
<circle cx="801.4" cy="1015.2" r="3.4" fill="#262626"/>
<circle cx="791.4" cy="1015.2" r="3.4" fill="#262626"/>
<circle cx="821.4" cy="1003.7" r="3.4" fill="#262626"/>
<circle cx="831.4" cy="1003.7" r="3.4" fill="#262626"/>
<circle cx="841.4" cy="1003.7" r="3.4" fill="#262626"/>
<circle cx="811.4" cy="1003.7" r="3.4" fill="#262626"/>
<circle cx="801.4" cy="1003.7" r="3.4" fill="#262626"/>
<circle cx="791.4" cy="1003.7" r="3.4" fill="#262626"/>
<circle cx="821.4" cy="992.3" r="3.4" fill="#262626"/>
<circle cx="831.4" cy="992.3" r="3.4" fill="#262626"/>
<circle cx="841.4" cy="992.3" r="3.4" fill="#262626"/>
<circle cx="811.4" cy="992.3" r="3.4" fill="#262626"/>
<circle cx="801.4" cy="992.3" r="3.4" fill="#262626"/>
<circle cx="791.4" cy="992.3" r="3.4" fill="#262626"/>
<circle cx="816.4" cy="1025.0" r="3.4" fill="#262626"/>
<circle cx="826.4" cy="1025.0" r="3.4" fill="#262626"/>
<circle cx="836.4" cy="1025.0" r="3.4" fill="#262626"/>
<circle cx="806.4" cy="1025.0" r="3.4" fill="#262626"/>
<circle cx="796.4" cy="1025.0" r="3.4" fill="#262626"/>
<circle cx="816.4" cy="1023.0" r="3.4" fill="#262626"/>
<circle cx="826.4" cy="1023.0" r="3.4" fill="#262626"/>
<circle cx="836.4" cy="1023.0" r="3.4" fill="#262626"/>
<circle cx="806.4" cy="1023.0" r="3.4" fill="#262626"/>
<circle cx="796.4" cy="1023.0" r="3.4" fill="#262626"/>
<circle cx="816.4" cy="1021.0" r="3.4" fill="#262626"/>
<circle cx="826.4" cy="1021.0" r="3.4" fill="#262626"/>
<circle cx="836.4" cy="1021.0" r="3.4" fill="#262626"/>
<circle cx="806.4" cy="1021.0" r="3.4" fill="#262626"/>
<circle cx="796.4" cy="1021.0" r="3.4" fill="#262626"/>
<circle cx="816.4" cy="1019.0" r="3.4" fill="#262626"/>
<circle cx="826.4" cy="1019.0" r="3.4" fill="#262626"/>
<circle cx="836.4" cy="1019.0" r="3.4" fill="#262626"/>
<circle cx="806.4" cy="1019.0" r="3.4" fill="#262626"/>
<circle cx="796.4" cy="1019.0" r="3.4" fill="#262626"/>
<circle cx="816.4" cy="1017.0" r="3.4" fill="#262626"/>
<circle cx="826.4" cy="1017.0" r="3.4" fill="#262626"/>
<circle cx="836.4" cy="1017.0" r="3.4" fill="#262626"/>
<circle cx="806.4" cy="1017.0" r="3.4" fill="#262626"/>
<circle cx="796.4" cy="1017.0" r="3.4" fill="#262626"/>
<circle cx="816.4" cy="1015.0" r="3.4" fill="#262626"/>
<circle cx="826.4" cy="1015.0" r="3.4" fill="#262626"/>
<circle cx="836.4" cy="1015.0" r="3.4" fill="#262626"/>
<circle cx="806.4" cy="1015.0" r="3.4" fill="#262626"/>
<circle cx="796.4" cy="1015.0" r="3.4" fill="#262626"/>
<circle cx="816.4" cy="1013.0" r="3.4" fill="#262626"/>
<circle cx="826.4" cy="1013.0" r="3.4" fill="#262626"/>
<circle cx="836.4" cy="1013.0" r="3.4" fill="#262626"/>
<circle cx="806.4" cy="1013.0" r="3.4" fill="#262626"/>
<circle cx="796.4" cy="1013.0" r="3.4" fill="#262626"/>
<circle cx="816.4" cy="1011.0" r="3.4" fill="#262626"/>
<circle cx="826.4" cy="1011.0" r="3.4" fill="#262626"/>
<circle cx="836.4" cy="1011.0" r="3.4" fill="#262626"/>
<circle cx="806.4" cy="1011.0" r="3.4" fill="#262626"/>
<circle cx="796.4" cy="1011.0" r="3.4" fill="#262626"/>
<circle cx="816.4" cy="1009.0" r="3.4" fill="#262626"/>
<circle cx="826.4" cy="1009.0" r="3.4" fill="#262626"/>
<circle cx="836.4" cy="1009.0" r="3.4" fill="#262626"/>
<circle cx="806.4" cy="1009.0" r="3.4" fill="#262626"/>
<circle cx="796.4" cy="1009.0" r="3.4" fill="#262626"/>
<circle cx="816.4" cy="1007.0" r="3.4" fill="#262626"/>
<circle cx="826.4" cy="1007.0" r="3.4" fill="#262626"/>
<circle cx="836.4" cy="1007.0" r="3.4" fill="#262626"/>
<circle cx="806.4" cy="1007.0" r="3.4" fill="#262626"/>
<circle cx="796.4" cy="1007.0" r="3.4" fill="#262626"/>
<circle cx="816.4" cy="1005.0" r="3.4" fill="#262626"/>
<circle cx="826.4" cy="1005.0" r="3.4" fill="#262626"/>
<circle cx="836.4" cy="1005.0" r="3.4" fill="#262626"/>
<circle cx="806.4" cy="1005.0" r="3.4" fill="#262626"/>
<circle cx="796.4" cy="1005.0" r="3.4" fill="#262626"/>
<circle cx="816.4" cy="1003.0" r="3.4" fill="#262626"/>
<circle cx="826.4" cy="1003.0" r="3.4" fill="#262626"/>
<circle cx="836.4" cy="1003.0" r="3.4" fill="#262626"/>
<circle cx="806.4" cy="1003.0" r="3.4" fill="#262626"/>
<circle cx="796.4" cy="1003.0" r="3.4" fill="#262626"/>
<circle cx="816.4" cy="1001.0" r="3.4" fill="#262626"/>
<circle cx="826.4" cy="1001.0" r="3.4" fill="#262626"/>
<circle cx="836.4" cy="1001.0" r="3.4" fill="#262626"/>
<circle cx="806.4" cy="1001.0" r="3.4" fill="#262626"/>
<circle cx="796.4" cy="1001.0" r="3.4" fill="#262626"/>
<circle cx="816.4" cy="999.0" r="3.4" fill="#262626"/>
<circle cx="826.4" cy="999.0" r="3.4" fill="#262626"/>
<circle cx="836.4" cy="999.0" r="3.4" fill="#262626"/>
<circle cx="806.4" cy="999.0" r="3.4" fill="#262626"/>
<circle cx="796.4" cy="999.0" r="3.4" fill="#262626"/>
<circle cx="816.4" cy="997.0" r="3.4" fill="#262626"/>
<circle cx="826.4" cy="997.0" r="3.4" fill="#262626"/>
<circle cx="836.4" cy="997.0" r="3.4" fill="#262626"/>
<circle cx="806.4" cy="997.0" r="3.4" fill="#262626"/>
<circle cx="796.4" cy="997.0" r="3.4" fill="#262626"/>
<circle cx="816.4" cy="995.0" r="3.4" fill="#262626"/>
<circle cx="826.4" cy="995.0" r="3.4" fill="#262626"/>
<circle cx="836.4" cy="995.0" r="3.4" fill="#262626"/>
<circle cx="806.4" cy="995.0" r="3.4" fill="#262626"/>
<circle cx="796.4" cy="995.0" r="3.4" fill="#262626"/>
<circle cx="816.4" cy="993.0" r="3.4" fill="#262626"/>
<circle cx="826.4" cy="993.0" r="3.4" fill="#262626"/>
<circle cx="836.4" cy="993.0" r="3.4" fill="#262626"/>
<circle cx="806.4" cy="993.0" r="3.4" fill="#262626"/>
<circle cx="796.4" cy="993.0" r="3.4" fill="#262626"/>
<circle cx="801.8" cy="954.3" r="3.4" fill="#262626"/>
<circle cx="811.7" cy="957.0" r="3.4" fill="#262626"/>
<circle cx="811.7" cy="963.0" r="3.4" fill="#262626"/>
<circle cx="821.2" cy="954.3" r="3.4" fill="#262626"/>
<circle cx="821.2" cy="961.0" r="3.4" fill="#262626"/>
<circle cx="831.3" cy="951.1" r="3.4" fill="#262626"/>
<circle cx="836.2" cy="963.8" r="3.4" fill="#262626"/>
<line x1="796.6" y1="965.7" x2="791.9" y2="979.0" stroke="#262626" stroke-width="6.8" stroke-linecap="round"/>
<line x1="806.5" y1="967.3" x2="801.4" y2="980.0" stroke="#262626" stroke-width="6.8" stroke-linecap="round"/>
<line x1="813.3" y1="971.7" x2="811.7" y2="978.0" stroke="#262626" stroke-width="6.8" stroke-linecap="round"/>
<line x1="816.4" y1="968.5" x2="813.3" y2="971.7" stroke="#262626" stroke-width="6.8" stroke-linecap="round"/>
<line x1="816.4" y1="968.5" x2="820.4" y2="972.5" stroke="#262626" stroke-width="6.8" stroke-linecap="round"/>
<line x1="820.4" y1="972.5" x2="821.2" y2="978.0" stroke="#262626" stroke-width="6.8" stroke-linecap="round"/>
<line x1="826.7" y1="967.3" x2="831.5" y2="979.0" stroke="#262626" stroke-width="6.8" stroke-linecap="round"/>
<line x1="836.2" y1="963.8" x2="841.0" y2="979.0" stroke="#262626" stroke-width="6.8" stroke-linecap="round"/>
<line x1="796.4" y1="985.0" x2="796.4" y2="992.0" stroke="#262626" stroke-width="6.8" stroke-linecap="round"/>
<line x1="806.4" y1="985.0" x2="806.4" y2="992.0" stroke="#262626" stroke-width="6.8" stroke-linecap="round"/>
<line x1="816.4" y1="985.0" x2="816.4" y2="992.0" stroke="#262626" stroke-width="6.8" stroke-linecap="round"/>
<line x1="826.4" y1="985.0" x2="826.4" y2="992.0" stroke="#262626" stroke-width="6.8" stroke-linecap="round"/>
<line x1="836.4" y1="985.0" x2="836.4" y2="992.0" stroke="#262626" stroke-width="6.8" stroke-linecap="round"/>
<line x1="786.7" y1="1011.7" x2="846.5" y2="1011.7" stroke="#EC4134" stroke-width="4" stroke-linecap="butt"/>
<rect x="804.6" y="1009.5" width="23.9" height="4.5" rx="2" fill="#EC4134"/>
<rect x="880.3" y="955" width="52.4" height="72" rx="3" fill="#262626"/>
<circle cx="881.5" cy="960.0" r="4.6" fill="#262626"/>
<circle cx="891.5" cy="960.0" r="4.6" fill="#262626"/>
<circle cx="901.5" cy="960.0" r="4.6" fill="#262626"/>
<circle cx="911.5" cy="960.0" r="4.6" fill="#262626"/>
<circle cx="921.5" cy="960.0" r="4.6" fill="#262626"/>
<circle cx="931.5" cy="960.0" r="4.6" fill="#262626"/>
<circle cx="881.5" cy="966.7" r="4.6" fill="#262626"/>
<circle cx="891.5" cy="966.7" r="4.6" fill="#262626"/>
<circle cx="901.5" cy="966.7" r="4.6" fill="#262626"/>
<circle cx="911.5" cy="966.7" r="4.6" fill="#262626"/>
<circle cx="921.5" cy="966.7" r="4.6" fill="#262626"/>
<circle cx="931.5" cy="966.7" r="4.6" fill="#262626"/>
<circle cx="881.5" cy="977.2" r="4.6" fill="#262626"/>
<circle cx="891.5" cy="977.2" r="4.6" fill="#262626"/>
<circle cx="901.5" cy="977.2" r="4.6" fill="#262626"/>
<circle cx="911.5" cy="977.2" r="4.6" fill="#262626"/>
<circle cx="921.5" cy="977.2" r="4.6" fill="#262626"/>
<circle cx="931.5" cy="977.2" r="4.6" fill="#262626"/>
<circle cx="881.5" cy="990.4" r="4.6" fill="#262626"/>
<circle cx="891.5" cy="990.4" r="4.6" fill="#262626"/>
<circle cx="901.5" cy="990.4" r="4.6" fill="#262626"/>
<circle cx="911.5" cy="990.4" r="4.6" fill="#262626"/>
<circle cx="921.5" cy="990.4" r="4.6" fill="#262626"/>
<circle cx="931.5" cy="990.4" r="4.6" fill="#262626"/>
<circle cx="881.5" cy="1001.0" r="4.6" fill="#262626"/>
<circle cx="891.5" cy="1001.0" r="4.6" fill="#262626"/>
<circle cx="901.5" cy="1001.0" r="4.6" fill="#262626"/>
<circle cx="911.5" cy="1001.0" r="4.6" fill="#262626"/>
<circle cx="921.5" cy="1001.0" r="4.6" fill="#262626"/>
<circle cx="931.5" cy="1001.0" r="4.6" fill="#262626"/>
<circle cx="881.5" cy="1014.0" r="4.6" fill="#262626"/>
<circle cx="891.5" cy="1014.0" r="4.6" fill="#262626"/>
<circle cx="901.5" cy="1014.0" r="4.6" fill="#262626"/>
<circle cx="911.5" cy="1014.0" r="4.6" fill="#262626"/>
<circle cx="921.5" cy="1014.0" r="4.6" fill="#262626"/>
<circle cx="931.5" cy="1014.0" r="4.6" fill="#262626"/>
<circle cx="881.5" cy="1021.9" r="4.6" fill="#262626"/>
<circle cx="891.5" cy="1021.9" r="4.6" fill="#262626"/>
<circle cx="901.5" cy="1021.9" r="4.6" fill="#262626"/>
<circle cx="911.5" cy="1021.9" r="4.6" fill="#262626"/>
<circle cx="921.5" cy="1021.9" r="4.6" fill="#262626"/>
<circle cx="931.5" cy="1021.9" r="4.6" fill="#262626"/>
<circle cx="906.5" cy="1024.5" r="4.6" fill="#262626"/>
<circle cx="882.2" cy="957.1" r="2.9" fill="#fff" stroke="#262626" stroke-width="3.3"/>
<circle cx="891.4" cy="958.0" r="2.9" fill="#fff" stroke="#262626" stroke-width="3.3"/>
<circle cx="911.6" cy="958.0" r="2.9" fill="#fff" stroke="#262626" stroke-width="3.3"/>
<circle cx="921.6" cy="957.6" r="2.9" fill="#fff" stroke="#262626" stroke-width="3.3"/>
<circle cx="931.2" cy="958.5" r="2.9" fill="#fff" stroke="#262626" stroke-width="3.3"/>
<circle cx="901.5" cy="959.0" r="2.9" fill="#fff" stroke="#262626" stroke-width="3.3"/>
<circle cx="882.2" cy="952.7" r="2.9" fill="#fff" stroke="#262626" stroke-width="3.3"/>
<circle cx="891.4" cy="952.3" r="2.9" fill="#fff" stroke="#262626" stroke-width="3.3"/>
<circle cx="901.5" cy="953.2" r="2.9" fill="#fff" stroke="#262626" stroke-width="3.3"/>
<circle cx="911.6" cy="952.3" r="2.9" fill="#fff" stroke="#262626" stroke-width="3.3"/>
<circle cx="921.6" cy="951.9" r="2.9" fill="#fff" stroke="#262626" stroke-width="3.3"/>
<circle cx="931.2" cy="954.0" r="2.9" fill="#fff" stroke="#262626" stroke-width="3.3"/>
<circle cx="887.1" cy="947.9" r="2.9" fill="#fff" stroke="#262626" stroke-width="3.3"/>
<circle cx="896.7" cy="948.8" r="2.9" fill="#fff" stroke="#262626" stroke-width="3.3"/>
<circle cx="906.7" cy="948.8" r="2.9" fill="#fff" stroke="#262626" stroke-width="3.3"/>
<circle cx="916.4" cy="947.9" r="2.9" fill="#fff" stroke="#262626" stroke-width="3.3"/>
<circle cx="926.4" cy="945.7" r="2.9" fill="#fff" stroke="#262626" stroke-width="3.3"/>
<circle cx="901.5" cy="943.1" r="2.9" fill="#fff" stroke="#262626" stroke-width="3.3"/>
<circle cx="882.2" cy="941.8" r="2.9" fill="#fff" stroke="#262626" stroke-width="3.3"/>
<circle cx="891.9" cy="941.8" r="2.9" fill="#fff" stroke="#262626" stroke-width="3.3"/>
<circle cx="911.6" cy="941.8" r="2.9" fill="#fff" stroke="#262626" stroke-width="3.3"/>
<circle cx="921.6" cy="941.8" r="2.9" fill="#fff" stroke="#262626" stroke-width="3.3"/>
<circle cx="931.2" cy="941.8" r="2.9" fill="#fff" stroke="#262626" stroke-width="3.3"/>
<circle cx="901.5" cy="936.6" r="2.9" fill="#fff" stroke="#262626" stroke-width="3.3"/>
<circle cx="906.6" cy="875.7" r="2.9" fill="#fff" stroke="#262626" stroke-width="3.3"/>
<circle cx="901.7" cy="898.6" r="2.9" fill="#fff" stroke="#262626" stroke-width="3.3"/>
<circle cx="911.7" cy="901.7" r="2.9" fill="#fff" stroke="#262626" stroke-width="3.3"/>
<circle cx="906.6" cy="915.3" r="2.9" fill="#fff" stroke="#262626" stroke-width="3.3"/>
<circle cx="906.6" cy="925.7" r="2.9" fill="#fff" stroke="#262626" stroke-width="3.3"/>
<circle cx="911.7" cy="927.0" r="2.9" fill="#fff" stroke="#262626" stroke-width="3.3"/>
<line x1="877.0" y1="1000.5" x2="936.5" y2="1000.5" stroke="#EC4134" stroke-width="4" stroke-linecap="butt"/>
<rect x="893.1" y="997.8" width="27.4" height="5.5" rx="2" fill="#EC4134"/>
<circle cx="971.6" cy="1020.8" r="3.8" fill="#262626"/>
<circle cx="981.6" cy="1020.8" r="3.8" fill="#262626"/>
<circle cx="991.6" cy="1020.8" r="3.8" fill="#262626"/>
<circle cx="1001.6" cy="1020.8" r="3.8" fill="#262626"/>
<circle cx="1011.6" cy="1020.8" r="3.8" fill="#262626"/>
<circle cx="1021.6" cy="1020.8" r="3.8" fill="#262626"/>
<circle cx="971.6" cy="1011.7" r="3.8" fill="#262626"/>
<circle cx="981.6" cy="1011.7" r="3.8" fill="#262626"/>
<circle cx="991.6" cy="1011.7" r="3.8" fill="#262626"/>
<circle cx="1001.6" cy="1011.7" r="3.8" fill="#262626"/>
<circle cx="1011.6" cy="1011.7" r="3.8" fill="#262626"/>
<circle cx="1021.6" cy="1011.7" r="3.8" fill="#262626"/>
<circle cx="971.6" cy="1000.6" r="3.8" fill="#262626"/>
<circle cx="981.6" cy="1000.6" r="3.8" fill="#262626"/>
<circle cx="991.6" cy="1000.6" r="3.8" fill="#262626"/>
<circle cx="1001.6" cy="1000.6" r="3.8" fill="#262626"/>
<circle cx="1011.6" cy="1000.6" r="3.8" fill="#262626"/>
<circle cx="1021.6" cy="1000.6" r="3.8" fill="#262626"/>
<circle cx="971.6" cy="989.1" r="3.8" fill="#262626"/>
<circle cx="981.6" cy="989.1" r="3.8" fill="#262626"/>
<circle cx="991.6" cy="989.1" r="3.8" fill="#262626"/>
<circle cx="1001.6" cy="989.1" r="3.8" fill="#262626"/>
<circle cx="1011.6" cy="989.1" r="3.8" fill="#262626"/>
<circle cx="1021.6" cy="989.1" r="3.8" fill="#262626"/>
<circle cx="971.6" cy="978.0" r="3.8" fill="#262626"/>
<circle cx="981.6" cy="978.0" r="3.8" fill="#262626"/>
<circle cx="991.6" cy="978.0" r="3.8" fill="#262626"/>
<circle cx="1001.6" cy="978.0" r="3.8" fill="#262626"/>
<circle cx="1011.6" cy="978.0" r="3.8" fill="#262626"/>
<circle cx="1021.6" cy="978.0" r="3.8" fill="#262626"/>
<circle cx="971.6" cy="965.7" r="3.8" fill="#262626"/>
<circle cx="981.6" cy="965.7" r="3.8" fill="#262626"/>
<circle cx="991.6" cy="965.7" r="3.8" fill="#262626"/>
<circle cx="1001.6" cy="965.7" r="3.8" fill="#262626"/>
<circle cx="1011.6" cy="965.7" r="3.8" fill="#262626"/>
<circle cx="1021.6" cy="965.7" r="3.8" fill="#262626"/>
<circle cx="971.6" cy="954.3" r="3.8" fill="#262626"/>
<circle cx="981.6" cy="954.3" r="3.8" fill="#262626"/>
<circle cx="991.6" cy="954.3" r="3.8" fill="#262626"/>
<circle cx="1001.6" cy="954.3" r="3.8" fill="#262626"/>
<circle cx="1011.6" cy="954.3" r="3.8" fill="#262626"/>
<circle cx="1021.6" cy="954.3" r="3.8" fill="#262626"/>
<circle cx="971.6" cy="941.6" r="3.8" fill="#262626"/>
<circle cx="981.6" cy="941.6" r="3.8" fill="#262626"/>
<circle cx="991.6" cy="941.6" r="3.8" fill="#262626"/>
<circle cx="1001.6" cy="941.6" r="3.8" fill="#262626"/>
<circle cx="1011.6" cy="941.6" r="3.8" fill="#262626"/>
<circle cx="1021.6" cy="941.6" r="3.8" fill="#262626"/>
<line x1="978.2" y1="941.6" x2="976.6" y2="954.3" stroke="#262626" stroke-width="7.6" stroke-linecap="round"/>
<line x1="988.2" y1="941.6" x2="986.6" y2="954.3" stroke="#262626" stroke-width="7.6" stroke-linecap="round"/>
<line x1="996.6" y1="941.6" x2="996.6" y2="954.3" stroke="#262626" stroke-width="7.6" stroke-linecap="round"/>
<line x1="1005.0" y1="941.6" x2="1006.6" y2="954.3" stroke="#262626" stroke-width="7.6" stroke-linecap="round"/>
<line x1="1015.0" y1="941.6" x2="1016.6" y2="954.3" stroke="#262626" stroke-width="7.6" stroke-linecap="round"/>
<line x1="978.2" y1="954.3" x2="976.6" y2="965.7" stroke="#262626" stroke-width="7.6" stroke-linecap="round"/>
<line x1="988.2" y1="954.3" x2="986.6" y2="965.7" stroke="#262626" stroke-width="7.6" stroke-linecap="round"/>
<line x1="996.6" y1="954.3" x2="996.6" y2="965.7" stroke="#262626" stroke-width="7.6" stroke-linecap="round"/>
<line x1="1005.0" y1="954.3" x2="1006.6" y2="965.7" stroke="#262626" stroke-width="7.6" stroke-linecap="round"/>
<line x1="1015.0" y1="954.3" x2="1016.6" y2="965.7" stroke="#262626" stroke-width="7.6" stroke-linecap="round"/>
<line x1="976.6" y1="965.7" x2="976.6" y2="978.0" stroke="#262626" stroke-width="7.6" stroke-linecap="round"/>
<line x1="986.6" y1="965.7" x2="986.6" y2="978.0" stroke="#262626" stroke-width="7.6" stroke-linecap="round"/>
<line x1="996.6" y1="965.7" x2="996.6" y2="978.0" stroke="#262626" stroke-width="7.6" stroke-linecap="round"/>
<line x1="1006.6" y1="965.7" x2="1006.6" y2="978.0" stroke="#262626" stroke-width="7.6" stroke-linecap="round"/>
<line x1="1016.6" y1="965.7" x2="1016.6" y2="978.0" stroke="#262626" stroke-width="7.6" stroke-linecap="round"/>
<line x1="976.6" y1="978.0" x2="976.6" y2="989.1" stroke="#262626" stroke-width="7.6" stroke-linecap="round"/>
<line x1="986.6" y1="978.0" x2="986.6" y2="989.1" stroke="#262626" stroke-width="7.6" stroke-linecap="round"/>
<line x1="996.6" y1="978.0" x2="996.6" y2="989.1" stroke="#262626" stroke-width="7.6" stroke-linecap="round"/>
<line x1="1006.6" y1="978.0" x2="1006.6" y2="989.1" stroke="#262626" stroke-width="7.6" stroke-linecap="round"/>
<line x1="1016.6" y1="978.0" x2="1016.6" y2="989.1" stroke="#262626" stroke-width="7.6" stroke-linecap="round"/>
<line x1="976.6" y1="989.1" x2="976.6" y2="1000.6" stroke="#262626" stroke-width="7.6" stroke-linecap="round"/>
<line x1="986.6" y1="989.1" x2="986.6" y2="1000.6" stroke="#262626" stroke-width="7.6" stroke-linecap="round"/>
<line x1="996.6" y1="989.1" x2="996.6" y2="1000.6" stroke="#262626" stroke-width="7.6" stroke-linecap="round"/>
<line x1="1006.6" y1="989.1" x2="1006.6" y2="1000.6" stroke="#262626" stroke-width="7.6" stroke-linecap="round"/>
<line x1="1016.6" y1="989.1" x2="1016.6" y2="1000.6" stroke="#262626" stroke-width="7.6" stroke-linecap="round"/>
<line x1="976.6" y1="1000.6" x2="976.6" y2="1011.7" stroke="#262626" stroke-width="7.6" stroke-linecap="round"/>
<line x1="986.6" y1="1000.6" x2="986.6" y2="1011.7" stroke="#262626" stroke-width="7.6" stroke-linecap="round"/>
<line x1="996.6" y1="1000.6" x2="996.6" y2="1011.7" stroke="#262626" stroke-width="7.6" stroke-linecap="round"/>
<line x1="1006.6" y1="1000.6" x2="1006.6" y2="1011.7" stroke="#262626" stroke-width="7.6" stroke-linecap="round"/>
<line x1="1016.6" y1="1000.6" x2="1016.6" y2="1011.7" stroke="#262626" stroke-width="7.6" stroke-linecap="round"/>
<line x1="976.6" y1="1011.7" x2="976.6" y2="1020.8" stroke="#262626" stroke-width="7.6" stroke-linecap="round"/>
<line x1="986.6" y1="1011.7" x2="986.6" y2="1020.8" stroke="#262626" stroke-width="7.6" stroke-linecap="round"/>
<line x1="996.6" y1="1011.7" x2="996.6" y2="1020.8" stroke="#262626" stroke-width="7.6" stroke-linecap="round"/>
<line x1="1006.6" y1="1011.7" x2="1006.6" y2="1020.8" stroke="#262626" stroke-width="7.6" stroke-linecap="round"/>
<line x1="1016.6" y1="1011.7" x2="1016.6" y2="1020.8" stroke="#262626" stroke-width="7.6" stroke-linecap="round"/>
<line x1="996.6" y1="934.0" x2="996.6" y2="1023.0" stroke="#262626" stroke-width="7.6" stroke-linecap="round"/>
<circle cx="976.6" cy="1024.0" r="3.6" fill="#262626"/>
<circle cx="986.6" cy="1024.0" r="3.6" fill="#262626"/>
<circle cx="996.6" cy="1024.0" r="3.6" fill="#262626"/>
<circle cx="1006.6" cy="1024.0" r="3.6" fill="#262626"/>
<circle cx="1016.6" cy="1024.0" r="3.6" fill="#262626"/>
<circle cx="1006.8" cy="762.1" r="3.5" fill="#262626"/>
<circle cx="986.7" cy="766.3" r="3.5" fill="#262626"/>
<circle cx="996.7" cy="771.1" r="3.5" fill="#262626"/>
<circle cx="996.7" cy="793.9" r="3.5" fill="#262626"/>
<circle cx="996.7" cy="806.0" r="3.5" fill="#262626"/>
<circle cx="976.9" cy="821.2" r="3.5" fill="#262626"/>
<circle cx="986.7" cy="823.3" r="3.5" fill="#262626"/>
<circle cx="992.0" cy="819.0" r="3.5" fill="#262626"/>
<circle cx="1002.0" cy="820.6" r="3.5" fill="#262626"/>
<circle cx="1006.8" cy="824.1" r="3.5" fill="#262626"/>
<circle cx="1016.6" cy="823.3" r="3.5" fill="#262626"/>
<circle cx="996.7" cy="827.9" r="3.5" fill="#262626"/>
<circle cx="972.1" cy="831.6" r="3.5" fill="#262626"/>
<circle cx="981.7" cy="836.2" r="3.5" fill="#262626"/>
<circle cx="992.0" cy="837.3" r="3.5" fill="#262626"/>
<circle cx="1002.0" cy="839.4" r="3.5" fill="#262626"/>
<circle cx="1011.4" cy="837.3" r="3.5" fill="#262626"/>
<circle cx="1021.4" cy="833.1" r="3.5" fill="#262626"/>
<circle cx="976.9" cy="848.4" r="3.5" fill="#262626"/>
<circle cx="986.7" cy="851.9" r="3.5" fill="#262626"/>
<circle cx="992.0" cy="847.3" r="3.5" fill="#262626"/>
<circle cx="1002.0" cy="847.3" r="3.5" fill="#262626"/>
<circle cx="996.7" cy="856.1" r="3.5" fill="#262626"/>
<circle cx="1006.8" cy="854.0" r="3.5" fill="#262626"/>
<circle cx="1016.6" cy="849.4" r="3.5" fill="#262626"/>
<circle cx="972.1" cy="876.7" r="3.5" fill="#262626"/>
<circle cx="977.1" cy="874.2" r="3.5" fill="#262626"/>
<circle cx="982.1" cy="881.3" r="3.5" fill="#262626"/>
<circle cx="986.7" cy="875.4" r="3.5" fill="#262626"/>
<circle cx="991.7" cy="870.8" r="3.5" fill="#262626"/>
<circle cx="996.7" cy="875.8" r="3.5" fill="#262626"/>
<circle cx="1001.7" cy="869.8" r="3.5" fill="#262626"/>
<circle cx="1006.7" cy="874.6" r="3.5" fill="#262626"/>
<circle cx="1011.3" cy="877.9" r="3.5" fill="#262626"/>
<circle cx="1016.5" cy="872.9" r="3.5" fill="#262626"/>
<circle cx="1021.3" cy="876.7" r="3.5" fill="#262626"/>
<circle cx="991.7" cy="886.5" r="3.5" fill="#262626"/>
<circle cx="1001.7" cy="885.0" r="3.5" fill="#262626"/>
<circle cx="1001.7" cy="892.1" r="3.5" fill="#262626"/>
<circle cx="1011.7" cy="889.6" r="3.5" fill="#262626"/>
<circle cx="982.1" cy="891.7" r="3.5" fill="#262626"/>
<circle cx="976.7" cy="896.3" r="3.5" fill="#262626"/>
<circle cx="991.7" cy="894.2" r="3.5" fill="#262626"/>
<circle cx="986.7" cy="898.3" r="3.5" fill="#262626"/>
<circle cx="1006.7" cy="898.3" r="3.5" fill="#262626"/>
<circle cx="1016.5" cy="895.0" r="3.5" fill="#262626"/>
<line x1="972.1" y1="906.0" x2="972.1" y2="910.5" stroke="#262626" stroke-width="7.0" stroke-linecap="round"/>
<line x1="972.1" y1="916.0" x2="972.1" y2="920.5" stroke="#262626" stroke-width="7.0" stroke-linecap="round"/>
<line x1="972.1" y1="927.0" x2="972.1" y2="931.0" stroke="#262626" stroke-width="7.0" stroke-linecap="round"/>
<line x1="972.1" y1="938.0" x2="972.1" y2="942.0" stroke="#262626" stroke-width="7.0" stroke-linecap="round"/>
<line x1="982.1" y1="907.0" x2="982.1" y2="912.0" stroke="#262626" stroke-width="7.0" stroke-linecap="round"/>
<line x1="982.1" y1="919.5" x2="982.1" y2="920.0" stroke="#262626" stroke-width="7.0" stroke-linecap="round"/>
<line x1="983.6" y1="928.0" x2="982.1" y2="936.0" stroke="#262626" stroke-width="7.0" stroke-linecap="round"/>
<line x1="1011.3" y1="907.0" x2="1011.3" y2="912.0" stroke="#262626" stroke-width="7.0" stroke-linecap="round"/>
<line x1="1011.3" y1="919.5" x2="1011.3" y2="920.0" stroke="#262626" stroke-width="7.0" stroke-linecap="round"/>
<line x1="1009.8" y1="928.0" x2="1011.3" y2="936.0" stroke="#262626" stroke-width="7.0" stroke-linecap="round"/>
<line x1="1021.5" y1="905.0" x2="1021.5" y2="909.0" stroke="#262626" stroke-width="7.0" stroke-linecap="round"/>
<line x1="1021.5" y1="915.0" x2="1021.5" y2="920.0" stroke="#262626" stroke-width="7.0" stroke-linecap="round"/>
<line x1="1021.5" y1="927.0" x2="1021.5" y2="931.0" stroke="#262626" stroke-width="7.0" stroke-linecap="round"/>
<line x1="1021.5" y1="938.0" x2="1021.5" y2="942.0" stroke="#262626" stroke-width="7.0" stroke-linecap="round"/>
<line x1="991.7" y1="904.0" x2="991.7" y2="940.0" stroke="#262626" stroke-width="7.0" stroke-linecap="round"/>
<line x1="1001.7" y1="904.0" x2="1001.7" y2="940.0" stroke="#262626" stroke-width="7.0" stroke-linecap="round"/>
<circle cx="996.7" cy="899.2" r="3.6" fill="#262626"/>
<circle cx="996.7" cy="914.5" r="3.6" fill="#262626"/>
<circle cx="996.7" cy="925.5" r="3.6" fill="#262626"/>
<line x1="967.0" y1="971.9" x2="1027.0" y2="971.9" stroke="#EC4134" stroke-width="4" stroke-linecap="butt"/>
<rect x="980.2" y="968.9" width="33.6" height="6" rx="2" fill="#EC4134"/>
<text transform="matrix(0.8226,-0.5803,0.6012,0.5867,257.0,1072.3)" font-size="30" fill="#161616" text-anchor="end">Infected</text>
<text transform="matrix(0.8226,-0.5803,0.6012,0.5867,381.9,1071.0)" font-size="30" fill="#161616" text-anchor="end">Uninfected</text>
<text transform="matrix(0.8226,-0.5803,0.6012,0.5867,760.3,1068.7)" font-size="30" fill="#161616" text-anchor="end">Infected</text>
<text transform="matrix(0.8226,-0.5803,0.6012,0.5867,860.4,1068.7)" font-size="30" fill="#161616" text-anchor="end">Uninfected</text>
<text transform="matrix(0.8226,-0.5803,0.6012,0.5867,940.4,1068.7)" font-size="30" fill="#161616" text-anchor="end">Infected</text>
<text transform="matrix(0.8226,-0.5803,0.6012,0.5867,1040.3,1068.7)" font-size="30" fill="#161616" text-anchor="end">Uninfected</text>
<text transform="matrix(0.8771,-0.6187,0.6203,0.6053,676.5,483.6)" font-size="30" fill="#161616" text-anchor="end">0.0</text>
<text transform="matrix(0.8771,-0.6187,0.6203,0.6053,722.0,483.6)" font-size="30" fill="#161616" text-anchor="end">0.1</text>
<text transform="matrix(0.8771,-0.6187,0.6203,0.6053,767.4,483.6)" font-size="30" fill="#161616" text-anchor="end">0.2</text>
<text transform="matrix(0.8771,-0.6187,0.6203,0.6053,812.9,483.6)" font-size="30" fill="#161616" text-anchor="end">0.3</text>
<text transform="matrix(0.8771,-0.6187,0.6203,0.6053,858.3,483.6)" font-size="30" fill="#161616" text-anchor="end">0.4</text>
<text transform="matrix(0.8771,-0.6187,0.6203,0.6053,903.8,483.6)" font-size="30" fill="#161616" text-anchor="end">0.5</text>
<text transform="matrix(0.8771,-0.6187,0.6203,0.6053,949.2,483.6)" font-size="30" fill="#161616" text-anchor="end">0.6</text>
<text transform="matrix(0.8771,-0.6187,0.6203,0.6053,994.6,483.6)" font-size="30" fill="#161616" text-anchor="end">0.7</text>
<text transform="matrix(0.8771,-0.6187,0.6203,0.6053,1040.1,483.6)" font-size="30" fill="#161616" text-anchor="end">0.8</text>
<text transform="matrix(0.8771,-0.6187,0.6203,0.6053,1085.5,483.6)" font-size="30" fill="#161616" text-anchor="end">0.9</text>
<text transform="matrix(0.8771,-0.6187,0.6203,0.6053,1137.5,482.6)" font-size="30" fill="#161616" text-anchor="end">&gt;1.0</text>
<text transform="translate(260.7,707.2) scale(1,1.06)" font-size="23.5" fill="#2a2a2a" text-anchor="middle" letter-spacing="1.6">***</text>
<text transform="translate(301.0,707.2) scale(1,1.06)" font-size="23.5" fill="#2a2a2a" text-anchor="middle" letter-spacing="1.6">***</text>
<text transform="translate(280.1,710.3) scale(1,1.06)" font-size="30" fill="#2e2e2e" text-anchor="middle" >,</text>
<text transform="translate(747.6,905.8) scale(1,1.06)" font-size="23.5" fill="#2a2a2a" text-anchor="middle" letter-spacing="1.6">***</text>
<text transform="translate(788.1,905.8) scale(1,1.06)" font-size="23.5" fill="#2a2a2a" text-anchor="middle" letter-spacing="1.6">***</text>
<text transform="translate(767.2,910.0) scale(1,1.06)" font-size="30" fill="#2e2e2e" text-anchor="middle" >,</text>
<text transform="translate(940.4,716.4) scale(1,1.06)" font-size="23.5" fill="#2a2a2a" text-anchor="middle" letter-spacing="1.6">***</text>
<text transform="translate(979.9,716.4) scale(1,1.06)" font-size="23.5" fill="#2a2a2a" text-anchor="middle" letter-spacing="1.6">***</text>
<text transform="translate(959.3,720.3) scale(1,1.06)" font-size="30" fill="#2e2e2e" text-anchor="middle" >,</text>
<text transform="translate(81.0,1200.0) scale(1,1.06)" font-size="27.4" fill="#161616" text-anchor="start" >Status of Clot-treated HeLa cells</text>
<text transform="translate(656.0,1198.0) scale(1,1.06)" font-size="27.4" fill="#161616" text-anchor="start" >Status of Clot-treated HeLa cells</text>
</svg></body></html>
